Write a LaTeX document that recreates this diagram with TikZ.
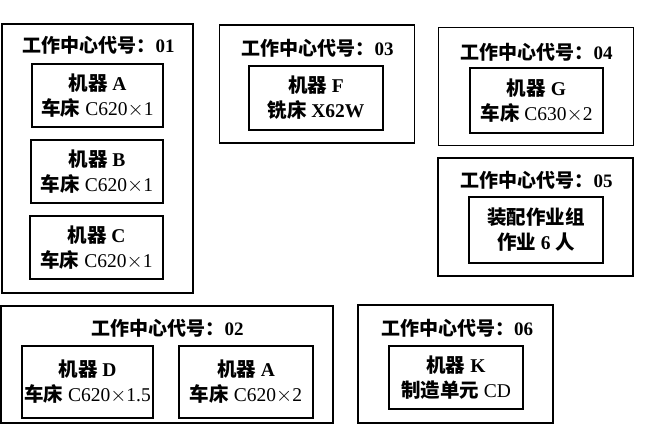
\documentclass[tikz,border=0pt]{standalone}
\usepackage{fontspec}
\setmainfont{Liberation Serif}
\newfontfamily\cjk{Noto Sans CJK SC}
\newcommand\wcname[1]{{\cjk 工作中心代号：}#1}

\begin{document}
\begin{tikzpicture}[x=1pt,y=-1pt]
\tikzset{wcbox/.style={draw, line width=1.6pt, minimum width=195pt, minimum height=118pt, inner sep=0pt},
  wctitle/.style={inner sep=0pt, font=\fontsize{19}{24}\selectfont\bfseries},
  machbox/.style={draw, line width=1.6pt, minimum width=133pt, minimum height=64pt, inner sep=0pt,
    align=center, font=\fontsize{19.5}{25}\selectfont\bfseries}}
\useasboundingbox (0,0) rectangle (655,430);
% work centres
\node[wcbox, minimum width=191pt, minimum height=269pt] (WC01) at (97.5,158.5) {};
\node[wcbox] (WC03) at (317,84) {};
\node[wcbox] (WC04) at (536,86.5) {};
\node[wcbox] (WC05) at (535.5,217) {};
\node[wcbox, minimum width=332pt, minimum height=117pt] (WC02) at (167,364.5) {};
\node[wcbox] (WC06) at (455.5,364) {};
% titles
\node[wctitle] (T01) at (98.5,45) {\wcname{01}};
\node[wctitle] (T03) at (317.5,48) {\wcname{03}};
\node[wctitle] (T04) at (536.5,52) {\wcname{04}};
\node[wctitle] (T05) at (536.5,180) {\wcname{05}};
\node[wctitle] (T02) at (167.5,328) {\wcname{02}};
\node[wctitle] (T06) at (457,328) {\wcname{06}};
% machines
\node[machbox, minimum width=131pt, minimum height=63pt] (MA) at (97.5,95.5) {{\cjk 机器} A\\{\cjk 车床} \mdseries C620$\times$1};
\node[machbox, minimum width=132pt, minimum height=63pt] (MB) at (97,171.5) {{\cjk 机器} B\\{\cjk 车床} \mdseries C620$\times$1};
\node[machbox, minimum width=133pt, minimum height=63pt] (MC) at (96.5,247.5) {{\cjk 机器} C\\{\cjk 车床} \mdseries C620$\times$1};
\node[machbox, minimum width=134pt] (MF) at (316,98) {{\cjk 机器} F\\{\cjk 铣床} X62W};
\node[machbox, minimum height=65pt] (MG) at (536.5,100.5) {{\cjk 机器} G\\{\cjk 车床} \mdseries C630$\times$2};
\node[machbox, minimum width=134pt, minimum height=66pt] (ZP) at (536,230) {{\cjk 装配作业组}\\{\cjk 作业} 6 {\cjk 人}};
\node[machbox, minimum width=131pt, minimum height=72pt] (MD) at (87.5,382) {{\cjk 机器} D\\{\cjk 车床} \mdseries C620$\times$1.5};
\node[machbox, minimum width=134pt, minimum height=72pt] (MA2) at (246,382) {{\cjk 机器} A\\{\cjk 车床} \mdseries C620$\times$2};
\node[machbox, minimum width=134pt, minimum height=63pt] (MK) at (456,377.5) {{\cjk 机器} K\\{\cjk 制造单元} \mdseries CD};
\end{tikzpicture}
\end{document}
